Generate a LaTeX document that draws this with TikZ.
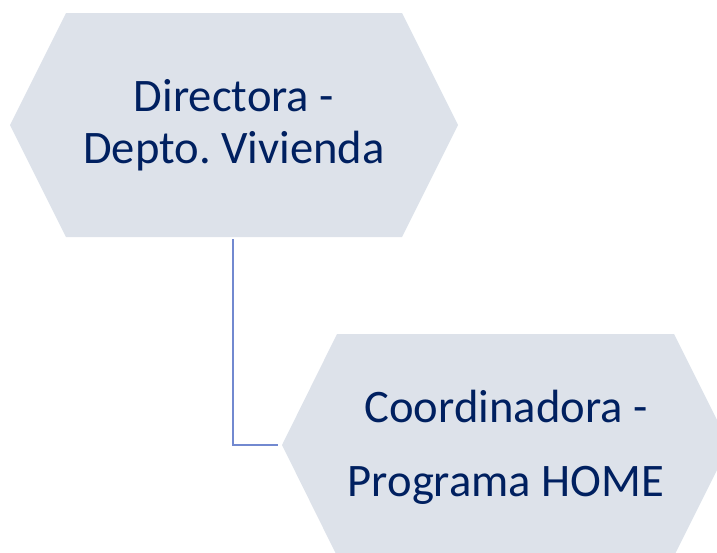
\documentclass[tikz,border=0pt]{standalone}
\usepackage{fontspec}
\setmainfont{Carlito}
\frenchspacing
\definecolor{hexgray}{RGB}{221,226,234}
\definecolor{navy}{RGB}{0,32,96}
\definecolor{linkblue}{RGB}{114,137,208}
\begin{document}
\begin{tikzpicture}[x=1pt,y=-1pt,
  hexshape/.style={fill=hexgray},
  lbl/.style={text=navy, align=center, inner sep=0pt},
  lblA/.style={lbl, font=\fontsize{46.6}{52}\selectfont},
  lblB/.style={lbl, font=\fontsize{46.6}{74}\selectfont},
  link/.style={draw=linkblue, line width=2.4pt}]
\useasboundingbox (0,0) rectangle (717,552);

% upper hexagon
\fill[hexshape] (10,125) -- (66,13) -- (402,13) -- (458,125) -- (402,237) -- (66,237) -- cycle;
\coordinate (topdown) at (233,239);
\node[lblA] (director) at (234,125) {Directora -\\Depto. Vivienda};

% lower hexagon (runs past the page edge)
\fill[hexshape] (282,445) -- (337,334) -- (674,334) -- (729.5,445) -- (674,556) -- (337,556) -- cycle;
\coordinate (lowerleft) at (278,445);
\node[lblB] (coordinator) at (506,447) {Coordinadora -\\Programa HOME};

% elbow connector
\draw[link] (topdown) |- (lowerleft);
\end{tikzpicture}
\end{document}
